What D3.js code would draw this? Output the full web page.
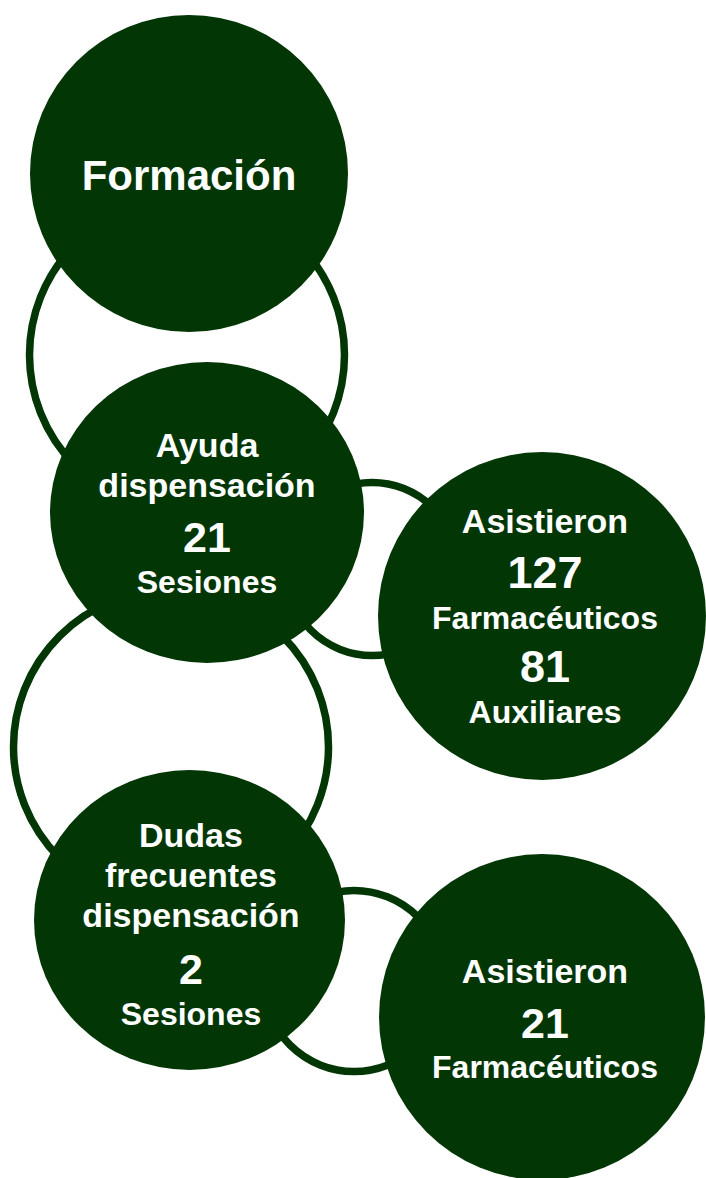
<!DOCTYPE html>
<html>
<head>
<meta charset="utf-8">
<script src="https://cdn.jsdelivr.net/npm/d3@7"></script>
<style>
  html, body { margin: 0; padding: 0; background: #fff; }
  svg { display: block; }
</style>
</head>
<body>
<svg id="chart" width="706" height="1178"></svg>
<script>
// texts and values
var titles = ['Formación', 'Ayuda\ndispensación', 'Dudas\nfrecuentes\ndispensación'];
var sessionCounts = [21, 2];
var sessionUnit = 'Sesiones';
var attendedLabel = 'Asistieron';
var pharmacistCounts = [127, 21];
var auxiliaryCounts = [81];
var pharmacistUnit = 'Farmacéuticos';
var auxiliaryUnit = 'Auxiliares';

var GREEN = '#033605',
    FONT = '"Liberation Sans", Arial, Helvetica, sans-serif';

// line styles: font size and baseline advance from previous line
var LINE = {
    title: {size: 34, step: 40},
    num: {size: 45, step: 55},
    unit: {size: 32, step: 41}
};

function titleLines(t) {
    return t.split('\n').map(function(s) { return {text: s, kind: 'title'}; });
}

// filled nodes, content built from the arrays above
var nodes = [
    {lines: [{text: titles[0], kind: 'title', size: 42}]},
    {lines: titleLines(titles[1]).concat([
        {text: sessionCounts[0], kind: 'num', size: 43},
        {text: sessionUnit, kind: 'unit'}])},
    {lines: [{text: attendedLabel, kind: 'title'},
        {text: pharmacistCounts[0], kind: 'num'},
        {text: pharmacistUnit, kind: 'unit'},
        {text: auxiliaryCounts[0], kind: 'num', step: 53},
        {text: auxiliaryUnit, kind: 'unit'}]},
    {lines: titleLines(titles[2]).concat([
        {text: sessionCounts[1], kind: 'num', size: 43, step: 57},
        {text: sessionUnit, kind: 'unit'}])},
    {lines: [{text: attendedLabel, kind: 'title'},
        {text: pharmacistCounts[1], kind: 'num', size: 43},
        {text: pharmacistUnit, kind: 'unit', step: 40}]}
];

// layout of the diagram (ellipse geometry, text offsets)
var nodeLayout = [
    {cx: 189, cy: 173.5, rx: 159, ry: 158.5, dx: 0, shift: 16.5},
    {cx: 207, cy: 512.5, rx: 157, ry: 150.5, dx: 0, shift: 12.5},
    {cx: 542, cy: 616, rx: 164, ry: 164, dx: 3, shift: 11.5},
    {cx: 189.5, cy: 920, rx: 155.5, ry: 150, dx: 1.5, shift: 16},
    {cx: 542, cy: 1017, rx: 163, ry: 163, dx: 3, shift: 13.5}
];
var ringLayout = [
    {cx: 187, cy: 355, rx: 157.5, ry: 157},
    {cx: 372, cy: 569, rx: 86.5, ry: 86.5},
    {cx: 171, cy: 747, rx: 157.5, ry: 157},
    {cx: 354, cy: 981, rx: 90.5, ry: 90.5}
];

var svg = d3.select('#chart');

// connector rings go behind the filled nodes
svg.append('g').attr('class', 'rings')
    .selectAll('ellipse')
    .data(ringLayout)
  .enter().append('ellipse')
    .attr('cx', function(d) { return d.cx; })
    .attr('cy', function(d) { return d.cy; })
    .attr('rx', function(d) { return d.rx; })
    .attr('ry', function(d) { return d.ry; })
    .style('fill', '#fff')
    .style('stroke', GREEN)
    .style('stroke-width', 7.5);

var node = svg.append('g').attr('class', 'nodes')
    .selectAll('g.node')
    .data(nodes)
  .enter().append('g')
    .attr('class', 'node');

node.append('ellipse')
    .attr('cx', function(d, i) { return nodeLayout[i].cx; })
    .attr('cy', function(d, i) { return nodeLayout[i].cy; })
    .attr('rx', function(d, i) { return nodeLayout[i].rx; })
    .attr('ry', function(d, i) { return nodeLayout[i].ry; })
    .style('fill', GREEN);

node.each(function(d, i) {
    var lay = nodeLayout[i],
        y = 0,
        base = [];
    // stack the baselines, then center the block on the node
    d.lines.forEach(function(l, j) {
        if(j > 0) y += l.step || LINE[l.kind].step;
        base.push(y);
    });
    var top = lay.cy + lay.shift - y / 2;

    d3.select(this).selectAll('text')
        .data(d.lines)
      .enter().append('text')
        .attr('x', lay.cx + lay.dx)
        .attr('y', function(l, j) { return top + base[j]; })
        .attr('text-anchor', 'middle')
        .style('font-family', FONT)
        .style('font-weight', 'bold')
        .style('font-size', function(l) { return (l.size || LINE[l.kind].size) + 'px'; })
        .style('fill', '#fff')
        .text(function(l) { return l.text; });
});
</script>
</body>
</html>
